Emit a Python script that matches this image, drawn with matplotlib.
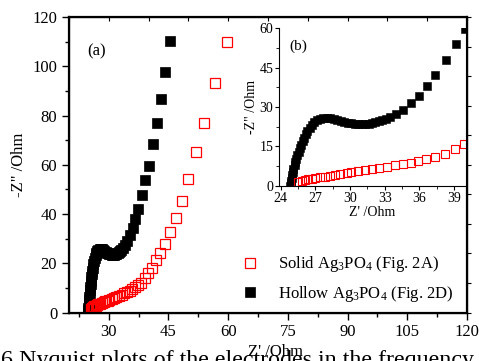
import matplotlib
matplotlib.use('Agg')
import matplotlib.pyplot as plt
from matplotlib.ticker import MultipleLocator

plt.rcParams['font.family'] = ['Liberation Serif', 'DejaVu Serif']
plt.rcParams['mathtext.fontset'] = 'custom'
plt.rcParams['mathtext.rm'] = 'Liberation Serif'
plt.rcParams['mathtext.it'] = 'Liberation Serif:italic'

# Hollow Ag3PO4 (Fig. 2D) - Z' and -Z'' (Ohm)
hollow_zre = [24.8, 24.85, 24.9, 24.95, 25.0, 25.05, 25.1, 25.2, 25.25, 25.35,
              25.45, 25.55, 25.65, 25.75, 25.9, 26.0, 26.15, 26.3, 26.5, 26.7,
              26.9, 27.15, 27.4, 27.7, 28.0, 28.3, 28.6, 28.9, 29.2, 29.5,
              29.8, 30.1, 30.4, 30.7, 31.0, 31.3, 31.6, 31.9, 32.2, 32.5,
              32.8, 33.1, 33.5, 34.0, 34.6, 35.3, 36.0, 36.7, 37.4, 38.3,
              39.2, 40.0, 41.1, 42.1, 43.2, 44.2, 45.4]
hollow_zim = [0.0, 1.0, 2.0, 3.0, 4.2, 5.3, 6.5, 7.8, 9.0, 10.3,
              11.6, 13.0, 14.3, 15.6, 17.0, 18.3, 19.6, 20.9, 22.1, 23.2,
              24.2, 25.0, 25.6, 25.9, 26.0, 25.9, 25.6, 25.2, 24.8, 24.4,
              24.1, 23.8, 23.6, 23.5, 23.5, 23.5, 23.7, 23.9, 24.2, 24.6,
              25.0, 25.5, 26.3, 27.5, 28.9, 31.4, 34.2, 38.0, 42.2, 47.9,
              53.8, 59.6, 68.3, 77.0, 86.7, 97.5, 110.2]

# Solid Ag3PO4 (Fig. 2A)
solid_zre = [25.5, 25.8, 26.1, 26.4, 26.7, 27.0, 27.4, 27.8, 28.3, 28.7,
             29.1, 29.7, 30.1, 30.7, 31.3, 31.9, 32.5, 33.2, 33.9, 34.6,
             35.3, 35.9, 36.6, 37.4, 38.2, 39.1, 39.9, 40.8, 41.8, 42.9,
             44.2, 45.4, 47.0, 48.4, 49.9, 51.9, 53.8, 56.8, 59.7]
solid_zim = [1.6, 1.9, 2.3, 2.5, 2.8, 3.0, 3.3, 3.5, 3.8, 4.2,
             4.6, 4.9, 5.3, 5.7, 6.1, 6.5, 6.9, 7.3, 7.8, 8.3,
             8.9, 9.5, 10.3, 11.1, 12.2, 13.9, 16.0, 18.0, 21.2, 24.1,
             27.9, 32.7, 38.4, 45.3, 54.2, 65.0, 76.8, 93.4, 110.0]

labels = ['Solid Ag$_{3}$PO$_{4}$ (Fig. 2A)', 'Hollow Ag$_{3}$PO$_{4}$ (Fig. 2D)']

fig = plt.figure(figsize=(4.79, 3.61), dpi=100)
ax = fig.add_axes([0.144, 0.134, 0.831, 0.819])

h_black, = ax.plot(hollow_zre, hollow_zim, 's', color='black', markersize=7,
                   markeredgewidth=0.5, label=labels[1])
h_red, = ax.plot(solid_zre, solid_zim, 's', markerfacecolor='none', markeredgecolor='red',
                 markersize=6.8, markeredgewidth=0.9, label=labels[0])

ax.set_xlim(20, 120)
ax.set_ylim(0, 120)
ax.set_xticks([30, 45, 60, 75, 90, 105, 120])
ax.xaxis.set_minor_locator(MultipleLocator(7.5))
ax.yaxis.set_major_locator(MultipleLocator(20))
ax.yaxis.set_minor_locator(MultipleLocator(10))
ax.tick_params(which='both', direction='out', labelsize=12, width=1)
ax.tick_params(which='major', length=5)
ax.tick_params(which='minor', length=3)
for s in ax.spines.values():
    s.set_linewidth(1.6)
ax.set_xlabel("Z' /Ohm", fontsize=12)
ax.xaxis.set_label_coords(0.52, -0.105)
ax.set_ylabel('-Z" /Ohm', fontsize=12, labelpad=4)
ax.text(0.045, 0.87, '(a)', transform=ax.transAxes, fontsize=12)

# mirror ticks on top and right
ax_top = ax.twiny()
ax_top.set_xlim(0, 10)
ax_top.set_xticks(range(11))
ax_top.tick_params(axis='x', direction='in', length=3, labeltop=False)
ax_right = ax.twinx()
ax_right.set_ylim(0, 10)
ax_right.set_yticks(range(11))
ax_right.tick_params(axis='y', direction='out', length=3, labelright=False)

leg = ax.legend([h_red, h_black], labels, loc='lower right', bbox_to_anchor=(1.005, -0.02),
                frameon=False, fontsize=12, handlelength=0.8, handletextpad=1.3,
                labelspacing=0.55)
leg.set_zorder(10)

# inset (b)
axin = fig.add_axes([0.5825, 0.4848, 0.3905, 0.4376])
axin.set_zorder(5)
axin.plot(hollow_zre, hollow_zim, 's', color='black', markersize=5.6,
          markeredgewidth=0.4)
axin.plot(solid_zre, solid_zim, 's', markerfacecolor='none', markeredgecolor='red',
          markersize=5.4, markeredgewidth=0.8)
axin.set_xlim(23.85, 40.05)
axin.set_ylim(0, 60)
axin.set_xticks([24, 27, 30, 33, 36, 39])
axin.xaxis.set_minor_locator(MultipleLocator(1.5))
axin.set_yticks([0, 15, 30, 45, 60])
axin.yaxis.set_minor_locator(MultipleLocator(7.5))
axin.tick_params(which='both', direction='out', labelsize=10, pad=1)
axin.tick_params(which='major', length=3)
axin.tick_params(which='minor', length=2)
axin.spines['top'].set_visible(False)
for s in ['left', 'bottom', 'right']:
    axin.spines[s].set_linewidth(0.8)
axin.set_xlabel("Z' /Ohm", fontsize=10, labelpad=1)
axin.set_ylabel('-Z" /Ohm', fontsize=10, labelpad=1)
axin.text(0.055, 0.86, '(b)', transform=axin.transAxes, fontsize=11)

fig.text(0.002, -0.014, '6 Nyquist plots of the electrodes in the frequency',
         fontsize=17.3, ha='left', va='baseline')

fig.savefig('out.png', dpi=100)
